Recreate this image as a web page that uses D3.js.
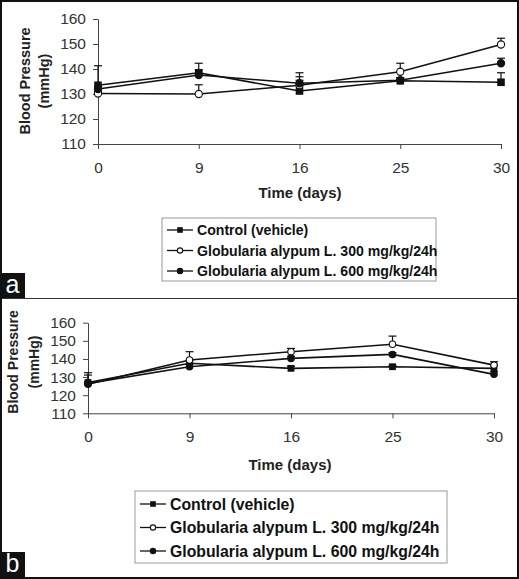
<!DOCTYPE html>
<html><head><meta charset="utf-8">
<script src="https://cdn.jsdelivr.net/npm/d3@7"></script>
<style>body{margin:0;background:#fff}svg{display:block}</style>
</head><body>
<svg id="c" width="519" height="579"></svg>
<script>
const days = ["0","9","16","25","30"];
const yTicks = [110,120,130,140,150,160];
const seriesNames = ["Control (vehicle)","Globularia alypum L. 300 mg/kg/24h","Globularia alypum L. 600 mg/kg/24h"];
const markers = ["square","open","filled"];

// Panel a
const aControl = [133.5, 138.5, 131.2, 135.3, 134.7];
const a300     = [130.2, 130.0, 133.5, 138.9, 149.8];
const a600     = [132.0, 137.6, 134.3, 135.5, 142.3];
const aControlErr = [141.3, 142.3, 136.9, 136.0, 138.5];
const a300Err     = [131.0, 133.7, 138.5, 142.3, 152.3];
const a600Err     = [133.0, 139.5, 135.5, 136.5, 144.3];

// Panel b
const bControl = [127.0, 137.6, 134.8, 135.7, 134.8];
const b300     = [126.0, 139.4, 144.0, 148.1, 136.6];
const b600     = [126.5, 135.7, 140.3, 142.5, 131.5];
const bControlErr = [132.4, 139.0, 136.0, 136.5, 136.5];
const b300Err     = [131.1, 144.0, 145.8, 152.6, 138.5];
const b600Err     = [127.5, 137.0, 141.5, 143.5, 133.0];

const svg = d3.select("#c");

function panel(cfg){
  const g = svg.append("g");
  const x = d3.scalePoint().domain(days).range([cfg.x0, cfg.x1]);
  const y = d3.scaleLinear().domain([110,160]).range([cfg.y0, cfg.y1]);
  const ya = g.append("g").attr("transform",`translate(${cfg.x0},0)`)
    .call(d3.axisLeft(y).tickValues(yTicks).tickSize(5).tickPadding(7).tickSizeOuter(0));
  const xa = g.append("g").attr("transform",`translate(0,${cfg.y0})`)
    .call(d3.axisBottom(x).tickSize(5).tickPadding(cfg.xpad).tickSizeOuter(0));
  [ya,xa].forEach(a=>{
    a.select(".domain").attr("stroke","#444").attr("stroke-width",1);
    a.selectAll(".tick line").attr("stroke","#444");
    a.selectAll("text").attr("font-family","Liberation Sans, Arial, sans-serif")
      .attr("font-size",cfg.tickFs).attr("fill","#333");
  });
  const yl = g.append("text").attr("transform",`translate(${cfg.ylx},${cfg.yly}) rotate(-90)`)
    .attr("text-anchor","middle").attr("font-family","Liberation Sans, Arial, sans-serif")
    .attr("font-weight","bold").attr("font-size",cfg.ylFs).attr("fill","#222");
  yl.append("tspan").attr("x",0).attr("dy",0).text("Blood Pressure");
  yl.append("tspan").attr("x",0).attr("dy",cfg.ylGap).text("(mmHg)");
  g.append("text").attr("x",cfg.xlx).attr("y",cfg.xly).attr("text-anchor","middle")
    .attr("font-family","Liberation Sans, Arial, sans-serif").attr("font-weight","bold")
    .attr("font-size",cfg.xlFs).attr("fill","#222").text("Time (days)");

  const line = d3.line().x((d,i)=>x(days[i])).y(d=>y(d));
  cfg.series.forEach((s,k)=>{
    s.err.forEach((e,i)=>{
      const cx = x(days[i]);
      g.append("line").attr("x1",cx).attr("x2",cx).attr("y1",y(s.v[i])).attr("y2",y(e))
        .attr("stroke","#111").attr("stroke-width",1.2);
      g.append("line").attr("x1",cx-4).attr("x2",cx+4).attr("y1",y(e)).attr("y2",y(e))
        .attr("stroke","#111").attr("stroke-width",1.2);
    });
  });
  cfg.series.forEach((s,k)=>{
    g.append("path").datum(s.v).attr("d",line).attr("fill","none")
      .attr("stroke","#111").attr("stroke-width",1.6);
  });
  cfg.series.forEach((s,k)=>{
    s.v.forEach((v,i)=>drawMarker(g, markers[k], x(days[i]), y(v), cfg.ms));
  });
  const lg = g.append("g");
  lg.append("rect").attr("x",cfg.lgx).attr("y",cfg.lgy).attr("width",cfg.lgw).attr("height",cfg.lgh)
    .attr("fill","#fff").attr("stroke","#999").attr("stroke-width",1);
  seriesNames.forEach((n,k)=>{
    const ly = cfg.lgy + cfg.lgRow0 + k*cfg.lgRow;
    lg.append("line").attr("x1",cfg.lgx+5).attr("x2",cfg.lgx+31).attr("y1",ly).attr("y2",ly)
      .attr("stroke","#111").attr("stroke-width",1.3);
    drawMarker(lg, markers[k], cfg.lgx+18, ly, cfg.lms);
    lg.append("text").attr("x",cfg.lgx+35).attr("y",ly).attr("dy","0.36em")
      .attr("font-family","Liberation Sans, Arial, sans-serif").attr("font-weight","bold")
      .attr("font-size",cfg.lgFs).attr("fill","#111").text(n);
  });
  g.append("rect").attr("x",0).attr("y",cfg.lety).attr("width",25).attr("height",25).attr("fill","#111");
  g.append("text").attr("x",12.5).attr("y",cfg.lety+20).attr("text-anchor","middle")
    .attr("font-family","Liberation Sans, Arial, sans-serif").attr("font-size",25)
    .attr("fill","#fff").text(cfg.letter);
}

function drawMarker(g, type, cx, cy, s){
  if(type==="square"){
    g.append("rect").attr("x",cx-s).attr("y",cy-s).attr("width",2*s).attr("height",2*s).attr("fill","#111");
  } else {
    g.append("circle").attr("cx",cx).attr("cy",cy).attr("r",s*0.95)
      .attr("fill",type==="open"?"#fff":"#111").attr("stroke","#111").attr("stroke-width",1.1);
  }
}

panel({x0:98,x1:501,y0:144,y1:19,xpad:13,tickFs:15.5,
  ylx:30,yly:81,ylFs:14.5,ylGap:19,xlx:300,xly:198,xlFs:15,
  series:[{v:aControl,err:aControlErr},{v:a300,err:a300Err},{v:a600,err:a600Err}],
  ms:3.8,lms:2.8,lgx:162,lgy:218,lgw:274,lgh:63,lgRow0:12,lgRow:20.5,lgFs:14.1,
  lety:273,letter:"a"});

panel({x0:88,x1:494,y0:413.3,y1:322.7,xpad:13,tickFs:15.5,
  ylx:18,yly:362,ylFs:14,ylGap:21,xlx:290,xly:470,xlFs:15,
  series:[{v:bControl,err:bControlErr},{v:b300,err:b300Err},{v:b600,err:b600Err}],
  ms:3.4,lms:2.8,lgx:135,lgy:491,lgw:312,lgh:72,lgRow0:13,lgRow:23.5,lgFs:15.8,
  lety:552,letter:"b"});

svg.append("line").attr("x1",0).attr("x2",519).attr("y1",298.5).attr("y2",298.5)
  .attr("stroke","#333").attr("stroke-width",1.2);
svg.append("rect").attr("x",1).attr("y",1).attr("width",517).attr("height",577)
  .attr("fill","none").attr("stroke","#111").attr("stroke-width",2);
</script>
</body></html>
